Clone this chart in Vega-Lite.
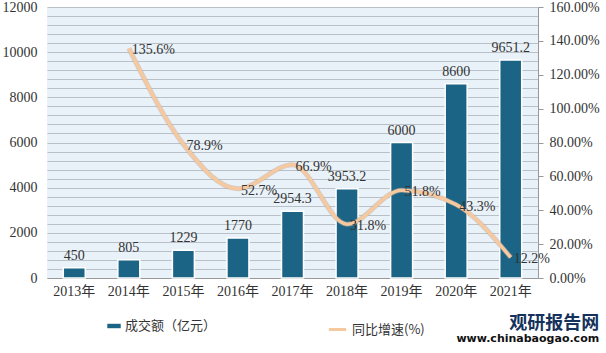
{
  "$schema": "https://vega.github.io/schema/vega-lite/v6.json",
  "width": 491,
  "height": 271,
  "padding": {"left": 2, "top": 0, "right": 0, "bottom": 0},
  "background": "white",
  "title": {
    "text": "观研报告网",
    "subtitle": "www.chinabaogao.com",
    "orient": "bottom",
    "anchor": "end",
    "frame": "bounds",
    "offset": -22,
    "font": "Noto Sans CJK SC",
    "fontSize": 18,
    "fontWeight": "bold",
    "color": "#14325c",
    "subtitleFont": "DejaVu Sans",
    "subtitleFontSize": 11,
    "subtitleFontWeight": "bold",
    "subtitleColor": "#111111",
    "subtitlePadding": 0
  },
  "config": {
    "view": {"fill": "#eaf2f9", "stroke": null},
    "font": "Liberation Serif",
    "axis": {"labelFont": "Liberation Serif, Noto Sans CJK SC", "labelFontSize": 14, "labelColor": "#333333"},
    "legend": {"labelFont": "Noto Sans CJK SC", "labelFontSize": 13, "labelColor": "#333333"}
  },
  "data": {
    "values": [
      {"year": "2013年", "amount": 450, "growth": null},
      {"year": "2014年", "amount": 805, "growth": 135.6},
      {"year": "2015年", "amount": 1229, "growth": 78.9},
      {"year": "2016年", "amount": 1770, "growth": 52.7},
      {"year": "2017年", "amount": 2954.3, "growth": 66.9},
      {"year": "2018年", "amount": 3953.2, "growth": 31.8},
      {"year": "2019年", "amount": 6000, "growth": 51.8},
      {"year": "2020年", "amount": 8600, "growth": 43.3},
      {"year": "2021年", "amount": 9651.2, "growth": 12.2}
    ]
  },
  "transform": [
    {"calculate": "datum.growth == null ? '' : format(datum.growth, '.1f') + '%'", "as": "glabel"}
  ],
  "encoding": {
    "x": {
      "field": "year", "type": "nominal", "sort": null, "title": null,
      "scale": {"paddingInner": 0, "paddingOuter": 0},
      "axis": {"labelAngle": 0, "domainColor": "#999999", "ticks": false, "labelPadding": 6, "labelFontSize": 14}
    }
  },
  "layer": [
    {
      "encoding": {
        "y": {
          "field": "amount", "type": "quantitative", "title": null,
          "scale": {"domain": [0, 12000], "nice": false},
          "axis": {
            "values": [0,400,800,1200,1600,2000,2400,2800,3200,3600,4000,4400,4800,5200,5600,6000,6400,6800,7200,7600,8000,8400,8800,9200,9600,10000,10400,10800,11200,11600,12000],
            "tickCount": 31,
            "format": "d",
            "labelExpr": "datum.value % 2000 == 0 ? datum.label : ''",
            "labelOverlap": false,
            "grid": true, "gridColor": "#b9c0c7", "gridWidth": 1,
            "ticks": false, "domain": false, "labelPadding": 10
          }
        }
      },
      "layer": [
        {
          "mark": {"type": "bar", "width": 22, "stroke": "white", "strokeWidth": 1.5},
          "encoding": {
            "color": {
              "datum": "成交额（亿元）", "type": "nominal",
              "scale": {"range": ["#1c6486"]},
              "legend": {"title": null, "orient": "none", "legendX": 60, "legendY": 312, "symbolType": "M-1,-0.33L1,-0.33L1,0.33L-1,0.33Z", "symbolSize": 180, "symbolStrokeWidth": 0}
            }
          }
        },
        {
          "mark": {"type": "text", "dy": -12, "fontSize": 14, "color": "#333333", "font": "Liberation Serif"},
          "encoding": {
            "text": {"field": "amount", "type": "nominal"}
          }
        }
      ]
    },
    {
      "encoding": {
        "y": {
          "field": "growth", "type": "quantitative", "title": null,
          "scale": {"domain": [0, 160], "nice": false},
          "axis": {
            "orient": "right", "values": [0,20,40,60,80,100,120,140,160], "tickCount": 9,
            "labelExpr": "format(datum.value, '.2f') + '%'",
            "grid": false, "domainColor": "#999999", "tickColor": "#999999", "tickSize": 5, "labelPadding": 6
          }
        }
      },
      "layer": [
        {
          "mark": {"type": "line", "interpolate": "monotone", "strokeWidth": 5, "color": "#b8a898", "opacity": 0.5}
        },
        {
          "mark": {"type": "line", "interpolate": "monotone", "strokeWidth": 3.5},
          "encoding": {
            "stroke": {
              "datum": "同比增速(%)", "type": "nominal",
              "scale": {"range": ["#f6c8a0"]},
              "legend": {"title": null, "orient": "none", "legendX": 280, "legendY": 312, "symbolType": "stroke", "symbolStrokeWidth": 3, "symbolSize": 300}
            }
          }
        },
        {
          "mark": {"type": "text", "align": "left", "dx": 3, "dy": 2, "fontSize": 14, "color": "#333333", "font": "Liberation Serif"},
          "encoding": {
            "text": {"field": "glabel", "type": "nominal"}
          }
        }
      ]
    }
  ],
  "resolve": {"scale": {"y": "independent"}}
}
